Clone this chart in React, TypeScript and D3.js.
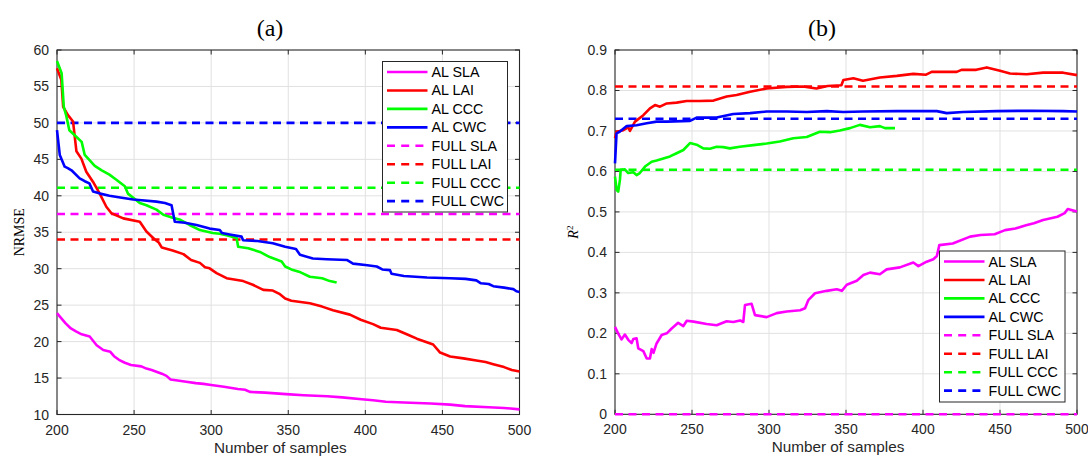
import React from "react";
import * as d3 from "d3";

// samples range shared by both panels
const xDomain: [number, number] = [200, 500];
const xTicks = [200, 250, 300, 350, 400, 450, 500];

const legendLabels = ["AL SLA", "AL LAI", "AL CCC", "AL CWC", "FULL SLA", "FULL LAI", "FULL CCC", "FULL CWC"];
const colors = ["#ff00ff", "#ff0000", "#00ff00", "#0000ff"];

// (a) NRMSE
const nrmseTicks = [10, 15, 20, 25, 30, 35, 40, 45, 50, 55, 60];
const alSlaA = [[200,23.9],[202,23.4],[205.6,22.5],[209,21.8],[212.3,21.4],[216,21.0],[221.2,20.7],[225.7,19.5],[230,18.85],[234.6,18.6],[237,18.0],[240.2,17.5],[244,17.1],[248,16.8],[254.7,16.6],[258,16.3],[261.4,16.1],[268,15.6],[271,15.3],[273.7,14.8],[283.8,14.5],[290,14.3],[295,14.2],[300,14.05],[308.3,13.8],[317.3,13.5],[322,13.4],[325.1,13.1],[335,13.0],[348.5,12.8],[360,12.65],[375.3,12.5],[385,12.35],[397.7,12.1],[405,11.95],[413.3,11.75],[425,11.65],[442.4,11.5],[455,11.35],[464.7,11.15],[480,11.0],[490,10.9],[500,10.7]];
const alLaiA = [[200,57.5],[202.8,55.9],[204,52.2],[207,51.1],[210.4,50.2],[212.6,46.1],[215.8,45.1],[219,43.3],[223.4,41.9],[227.7,40.3],[232,38.5],[235.3,37.6],[243,36.9],[253.7,36.45],[258,35.1],[263.4,34.0],[266,33.6],[268,32.9],[275,32.5],[282,32.0],[287,31.2],[292.7,30.8],[296,30.2],[299,30.05],[303.5,29.4],[310,28.7],[320.8,28.3],[327,27.8],[333.8,27.1],[340,27.0],[344.6,26.5],[348,25.9],[352,25.6],[364,25.25],[372,24.8],[379,24.3],[390,23.7],[397,23.0],[405,22.4],[410,21.9],[420.4,21.6],[428,20.9],[433.4,20.4],[444,19.6],[448.5,18.5],[455,17.95],[463.6,17.7],[472,17.4],[478,17.2],[483,16.9],[490,16.5],[495,16.1],[500,15.9]];
const alCccA = [[200,58.5],[203,56.8],[204.4,52.2],[206,51],[208,49.0],[211.5,48.3],[216,47.4],[218,45.6],[224.5,44.1],[229,43.5],[234,42.9],[238.5,42.2],[244,41.3],[246,40.3],[253.7,39.0],[258,38.7],[264.5,38.1],[269,37.4],[275,37.0],[280,36.7],[286,36.0],[292.7,35.3],[301,34.9],[305.6,34.8],[310,34.6],[316.5,34.2],[317.5,33.0],[324,32.8],[331.6,32.3],[338,31.6],[345.7,31.0],[348,30.3],[352,29.9],[358,29.5],[364,28.9],[372,28.7],[377,28.3],[381.4,28.1]];
const alCwcA = [[200,49.0],[201.8,45.6],[205,44.0],[207,43.8],[209.4,43.5],[214.7,42.4],[218,42.0],[221,41.7],[223.4,40.6],[228,40.3],[234,40.0],[240,39.8],[249.4,39.5],[255,39.4],[264.5,39.2],[270,39.0],[274.3,38.7],[276.4,36.45],[283,36.3],[290.5,36.0],[299,35.5],[305.6,35.3],[307,34.9],[312,34.7],[319.7,34.4],[320.7,33.9],[330,33.8],[340,33.5],[348,33.0],[355,32.7],[357.6,31.9],[366,31.4],[375,31.3],[388,31.2],[392,30.7],[400,30.5],[407.4,30.3],[411,29.9],[416,29.8],[417,29.3],[425,29.0],[440,28.8],[455,28.7],[465,28.6],[472,28.4],[475,28.0],[480,27.9],[483,27.6],[490,27.4],[496,27.2],[498,26.9],[500,26.8]];
const fullA = [37.5, 34.0, 41.1, 50.0];

// (b) R2
const r2Ticks = [0, 0.1, 0.2, 0.3, 0.4, 0.5, 0.6, 0.7, 0.8, 0.9];
const alSlaB = [[200,0.216],[202,0.2],[204.2,0.185],[206.4,0.197],[208.6,0.184],[210.8,0.176],[211.9,0.186],[214,0.188],[215.1,0.163],[218.4,0.156],[220.6,0.138],[222.7,0.138],[223.8,0.161],[225,0.152],[227,0.175],[230.3,0.196],[233.6,0.2],[236.8,0.212],[241,0.226],[244.4,0.218],[246.6,0.231],[251,0.229],[259.5,0.223],[266,0.22],[272.5,0.23],[276.8,0.228],[281.2,0.232],[283.3,0.228],[284.4,0.27],[288.7,0.273],[290.9,0.245],[298.5,0.24],[305,0.25],[311.5,0.254],[320.2,0.257],[323.4,0.262],[325.5,0.282],[329.9,0.299],[337.5,0.305],[344,0.309],[347.3,0.305],[350.5,0.32],[357,0.33],[361.3,0.344],[365.6,0.35],[372,0.346],[376.4,0.358],[385,0.363],[393.7,0.375],[397,0.366],[402.4,0.377],[406.7,0.383],[409,0.391],[410.6,0.418],[419.3,0.422],[430.6,0.439],[437.4,0.443],[446.5,0.445],[453.3,0.455],[460,0.459],[466.9,0.467],[472,0.472],[478,0.48],[487.3,0.488],[492,0.497],[494,0.507],[500,0.501]];
const alLaiB = [[200,0.682],[201,0.698],[205.4,0.702],[208.6,0.709],[209.7,0.700],[213,0.723],[218.4,0.739],[222.7,0.756],[226,0.764],[229.2,0.760],[233.6,0.768],[240,0.770],[246.5,0.774],[255,0.774],[264,0.775],[272.5,0.785],[279,0.789],[287.7,0.797],[298.5,0.805],[311.5,0.809],[322,0.810],[330.8,0.805],[338,0.811],[347,0.813],[348.3,0.826],[354.8,0.830],[361,0.824],[372,0.832],[383,0.836],[393.7,0.841],[402,0.839],[405.6,0.846],[421.9,0.846],[425,0.851],[434.6,0.851],[441.4,0.857],[450,0.849],[456.5,0.842],[467.3,0.840],[478,0.844],[491,0.844],[500,0.838]];
const alCccB = [[200,0.587],[201.1,0.554],[202.1,0.55],[203.2,0.579],[203.7,0.604],[206.4,0.605],[208.6,0.596],[211.9,0.598],[214,0.591],[216.1,0.596],[219.5,0.612],[223.8,0.624],[227,0.627],[231.4,0.632],[235.7,0.637],[240,0.645],[244.4,0.653],[248.7,0.670],[253,0.666],[257.3,0.657],[261.6,0.656],[266,0.661],[270.3,0.660],[274.6,0.657],[281,0.661],[289.8,0.665],[298.5,0.669],[307,0.674],[315.8,0.682],[324.5,0.685],[333,0.698],[339.6,0.697],[346,0.701],[352.6,0.707],[359,0.715],[365.6,0.709],[372,0.712],[375.3,0.707],[381.8,0.707]];
const alCwcB = [[200,0.62],[201,0.694],[202.6,0.697],[207.6,0.712],[214,0.714],[220.6,0.719],[227,0.723],[233.6,0.723],[248.7,0.725],[253,0.733],[266,0.733],[276.8,0.742],[287.7,0.744],[298.5,0.748],[311.5,0.748],[324.5,0.747],[337.5,0.749],[348.3,0.747],[361,0.748],[383,0.749],[409,0.749],[415.4,0.744],[426,0.747],[447.8,0.749],[469.5,0.750],[491,0.749],[500,0.748]];
const fullB = [0.0, 0.81, 0.604, 0.73];

const sans = "'Liberation Sans', Arial, sans-serif";
const serif = "'Liberation Serif', 'DejaVu Serif', serif";
const axisColor = "#262626";
const dash = "8,5.5";

type PanelProps = {
  box: { left: number; right: number; top: number; bottom: number };
  yDomain: [number, number];
  yTicks: number[];
  yFormat: (v: number) => string;
  series: number[][][];
  full: number[];
  legend: { x: number; y: number; w: number; h: number };
  title: string;
  titleX: number;
  yLabel: React.ReactNode;
  yLabelX: number;
};

function Panel({ box, yDomain, yTicks, yFormat, series, full, legend, title, titleX, yLabel, yLabelX }: PanelProps) {
  const x = d3.scaleLinear().domain(xDomain).range([box.left, box.right]);
  const y = d3.scaleLinear().domain(yDomain).range([box.bottom, box.top]);
  const line = d3.line<number[]>().x((d) => x(d[0])).y((d) => y(d[1]));
  const tl = 4.5;
  const cx = (box.left + box.right) / 2;
  const cy = (box.top + box.bottom) / 2;
  const rowGap = 18.45;

  return (
    <g>
      {/* grid */}
      {xTicks.slice(1, -1).map((t) => (
        <line key={"gx" + t} x1={x(t)} x2={x(t)} y1={box.top} y2={box.bottom} stroke="#e1e1e1" strokeWidth={1} />
      ))}
      {yTicks.slice(1, -1).map((t) => (
        <line key={"gy" + t} x1={box.left} x2={box.right} y1={y(t)} y2={y(t)} stroke="#e1e1e1" strokeWidth={1} />
      ))}
      {/* box and ticks */}
      <rect x={box.left} y={box.top} width={box.right - box.left} height={box.bottom - box.top} fill="none" stroke={axisColor} strokeWidth={1.1} />
      {xTicks.map((t) => (
        <g key={"tx" + t}>
          <line x1={x(t)} x2={x(t)} y1={box.bottom} y2={box.bottom - tl} stroke={axisColor} />
          <line x1={x(t)} x2={x(t)} y1={box.top} y2={box.top + tl} stroke={axisColor} />
          <text x={x(t)} y={box.bottom + 20} textAnchor="middle" fontFamily={sans} fontSize={14} fill={axisColor}>{t}</text>
        </g>
      ))}
      {yTicks.map((t) => (
        <g key={"ty" + t}>
          <line x1={box.left} x2={box.left + tl} y1={y(t)} y2={y(t)} stroke={axisColor} />
          <line x1={box.right} x2={box.right - tl} y1={y(t)} y2={y(t)} stroke={axisColor} />
          <text x={box.left - 8} y={y(t) + 5} textAnchor="end" fontFamily={sans} fontSize={14} fill={axisColor}>{yFormat(t)}</text>
        </g>
      ))}
      {/* full-data reference lines */}
      {full.map((v, i) => (
        <line key={"f" + i} x1={box.left} x2={box.right} y1={y(v)} y2={y(v)} stroke={colors[i]} strokeWidth={2.6} strokeDasharray={dash} />
      ))}
      {/* active learning curves */}
      {series.map((s, i) => (
        <path key={"s" + i} d={line(s) || ""} fill="none" stroke={colors[i]} strokeWidth={2.6} strokeLinejoin="round" />
      ))}
      {/* labels */}
      <text x={titleX} y={36} textAnchor="middle" fontFamily={serif} fontSize={24} fill="#000">{title}</text>
      <text x={cx - 8} y={box.bottom + 38} textAnchor="middle" fontFamily={sans} fontSize={15.3} fill={axisColor}>Number of samples</text>
      <text transform={`translate(${yLabelX},${cy}) rotate(-90)`} textAnchor="middle" fontFamily={serif} fontSize={14} fill="#000">{yLabel}</text>
      {/* legend */}
      <rect x={legend.x} y={legend.y} width={legend.w} height={legend.h} fill="#fff" stroke={axisColor} strokeWidth={1} />
      {legendLabels.map((lab, i) => {
        const ry = legend.y + 10.5 + i * rowGap;
        return (
          <g key={lab}>
            <line x1={legend.x + 4.5} x2={legend.x + 45} y1={ry} y2={ry} stroke={colors[i % 4]} strokeWidth={2.6} strokeDasharray={i >= 4 ? "8,6.2" : undefined} />
            <text x={legend.x + 49} y={ry + 5} fontFamily={sans} fontSize={14.3} fill="#000">{lab}</text>
          </g>
        );
      })}
    </g>
  );
}

export default function App() {
  return (
    <svg width={1088} height={457} style={{ position: "absolute", left: 0, top: 0, background: "#fff" }}>
      <rect width={1088} height={457} fill="#fff" />
      <Panel
        box={{ left: 57, right: 519.5, top: 50, bottom: 414.5 }}
        yDomain={[10, 60]}
        yTicks={nrmseTicks}
        yFormat={(v) => String(v)}
        series={[alSlaA, alLaiA, alCccA, alCwcA]}
        full={fullA}
        legend={{ x: 382.5, y: 61.5, w: 125, h: 150.5 }}
        title="(a)"
        titleX={270}
        yLabel="NRMSE"
        yLabelX={24}
      />
      <Panel
        box={{ left: 615, right: 1077, top: 50, bottom: 414.3 }}
        yDomain={[0, 0.9]}
        yTicks={r2Ticks}
        yFormat={(v) => (v === 0 ? "0" : d3.format(".1f")(v))}
        series={[alSlaB, alLaiB, alCccB, alCwcB]}
        full={fullB}
        legend={{ x: 939.5, y: 251, w: 125.5, h: 151 }}
        title="(b)"
        titleX={822}
        yLabel={<><tspan fontStyle="italic">R</tspan><tspan fontSize={9} dy={-5}>2</tspan></>}
        yLabelX={578}
      />
    </svg>
  );
}
